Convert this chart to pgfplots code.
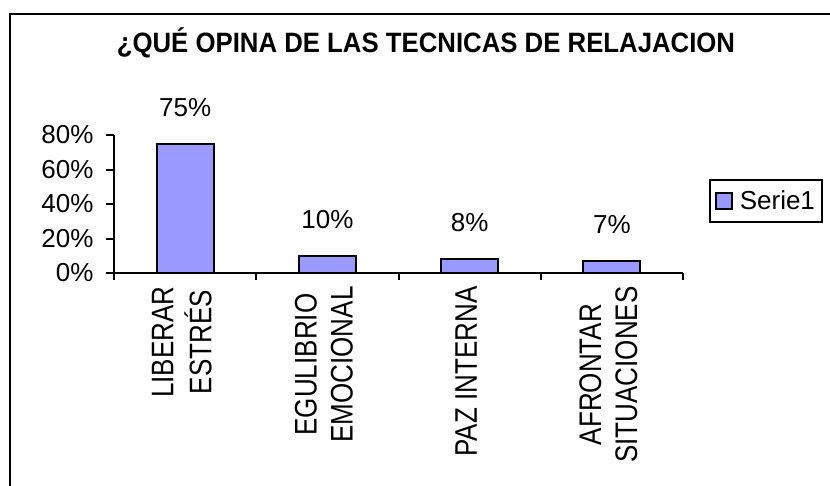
\documentclass[border=0pt]{standalone}
\usepackage{fontspec}
\setmainfont{Liberation Sans}
\usepackage{pgfplots}
\pgfplotsset{compat=1.18}
\definecolor{barfill}{HTML}{9999FF}
\newcommand{\fs}{\fontsize{26}{30}\selectfont}
\newcommand{\lab}[1]{\scalebox{1}[1.2]{\fs\begin{tabular}{@{}c@{}}#1\end{tabular}}}
\pgfplotsset{sqlegend/.style={legend image code/.code={\draw[##1, line width=1.8pt] (0pt,-8pt) rectangle (16pt,8pt);}}}
\begin{document}
\begin{tikzpicture}[x=1pt,y=1pt]
\useasboundingbox (0,0) rectangle (830,-485);
\draw[line width=2.5pt] (10,-14) rectangle (870,-530);
\node[font=\bfseries\fontsize{28}{30}\selectfont] at (426,-43) {\scalebox{0.92}[1]{¿QUÉ OPINA DE LAS TECNICAS DE RELAJACION}};
\begin{axis}[
  at={(114pt,-273pt)}, anchor=south west,
  scale only axis, width=569pt, height=138pt,
  xmin=-0.5, xmax=3.5, ymin=0, ymax=80,
  axis lines*=left,
  axis line style={line width=2pt, black},
  ybar, bar width=57pt,
  ytick={0,20,40,60,80},
  yticklabel={\pgfmathprintnumber[assume math mode=true]{\tick}\%},
  xtick={0,1,2,3},
  xticklabels={{\lab{LIBERAR\\ESTRÉS}},{\lab{EGULIBRIO\\EMOCIONAL}},{\lab{PAZ INTERNA}},{\lab{AFRONTAR\\SITUACIONES}}},
  minor xtick={-0.5,0.5,1.5,2.5,3.5},
  tick align=outside,
  major tick length=8pt, minor tick length=7pt,
  major x tick style={draw=none},
  every tick/.append style={black, line width=2pt},
  tick label style={font=\fs},
  yticklabel style={xshift=-9pt},
  xticklabel style={rotate=90, anchor=east, xshift=-2pt},
  nodes near coords={\pgfmathprintnumber[assume math mode=true]{\pgfplotspointmeta}\%},
  every node near coord/.append style={font=\fs, yshift=23pt},
  legend style={at={(1.0457,0.6812)}, anchor=north west, draw=black, line width=2pt, font=\fs, inner xsep=5pt, inner ysep=9pt},
  clip=false,
]
\addplot[draw=black, line width=2pt, fill=barfill, sqlegend] coordinates {(0,75) (1,10) (2,8) (3,7)};
\addlegendentry{\hspace{5pt}Serie1}
\end{axis}
\end{tikzpicture}
\end{document}
